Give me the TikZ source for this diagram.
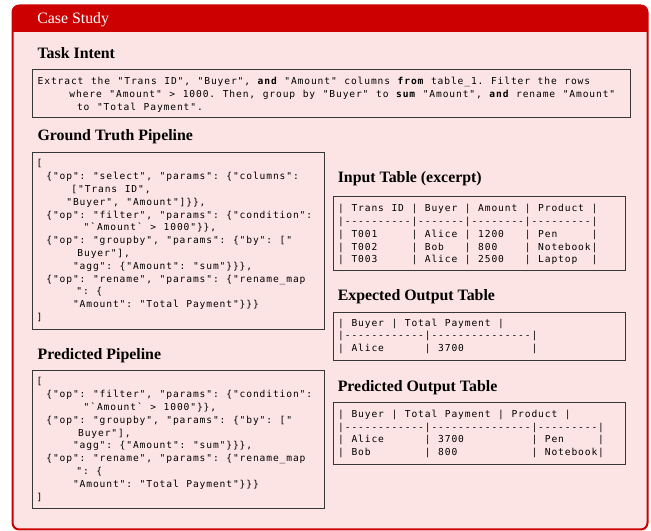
\documentclass[tikz,border=0pt]{standalone}
\usepackage{fontspec}
\setmainfont{Liberation Serif}
\setmonofont{DejaVu Sans Mono}
\usetikzlibrary{positioning}

\definecolor{casered}{RGB}{204,0,0}
\definecolor{casepink}{RGB}{253,228,228}
\definecolor{boxline}{RGB}{55,55,55}

\newcommand{\headfnt}{\fontsize{11.9}{14}\selectfont}
\newcommand{\codefnt}{\ttfamily\fontsize{7.2}{9.6}\selectfont}
% one fixed 5pt cell per character, spaces written as ~
\makeatletter
\newcommand{\codeln}[1]{\@tfor\code@c:=#1\do{\makebox[5pt]{\code@c}}}
\makeatother
\newcommand{\codebf}[1]{{\bfseries\codeln{#1}}}

\begin{document}
\begin{tikzpicture}[x=0.75pt, y=-0.75pt,
    headtext/.style={font=\headfnt\bfseries, anchor=base west, inner sep=0pt},
    codetext/.style={font=\codefnt, align=left, anchor=north west, inner sep=0pt,
        execute at begin node=\rule{0pt}{6.5pt}},
    codebox/.style={draw=boxline, line width=0.6pt}]
    \useasboundingbox (0,0) rectangle (651,531);
    % frame %
    \fill[casepink, rounded corners=5pt] (12.5,5.5) rectangle (647.5,529.5);
    \fill[casered, rounded corners=5pt] (12.5,5.5) rectangle (647.5,32);
    \fill[casered] (12.5,20) rectangle (647.5,32);
    \draw[casered, line width=1.5pt, rounded corners=5pt] (12.5,5.5) rectangle (647.5,529.5);
    \node[font=\headfnt, text=white, anchor=base west, inner sep=0pt] (title) at (37,23.5) {Case Study};
    % task intent %
    \node[headtext] (taskhead) at (37.3,59) {Task Intent};
    \draw[codebox] (32.5,69.3) rectangle (630,117.5);
    \node[codetext] (tasktext) at (37,76.8) {\codeln{Extract~the~"Trans~ID",~"Buyer",~}\codebf{and}\codeln{~"Amount"~columns~}\codebf{from}\codeln{~table\_1.~Filter~the~rows}\\
        \hspace*{23.8pt}\codeln{where~"Amount"~>~1000.~Then,~group~by~"Buyer"~to~}\codebf{sum}\codeln{~"Amount",~}\codebf{and}\codeln{~rename~"Amount"}\\
        \hspace*{29.5pt}\codeln{to~"Total~Payment".}};
    % ground truth pipeline %
    \node[headtext] (gthead) at (37.3,141) {Ground Truth Pipeline};
    \draw[codebox] (32,152.5) rectangle (324,329);
    \node[codetext] (gttext) at (39,159.3) {\hspace*{-2.3pt}\codeln{[}\\
        \hspace*{5pt}\codeln{\{"op":~"select",~"params":~\{"columns":}\\
        \hspace*{23.8pt}\codeln{["Trans~ID",}\\
        \hspace*{20pt}\codeln{"Buyer",~"Amount"]\}\},}\\
        \hspace*{5pt}\codeln{\{"op":~"filter",~"params":~\{"condition":}\\
        \hspace*{33pt}\codeln{"\textasciigrave Amount\textasciigrave~>~1000"\}\},}\\
        \hspace*{5pt}\codeln{\{"op":~"groupby",~"params":~\{"by":~["}\\
        \hspace*{28.3pt}\codeln{Buyer"],}\\
        \hspace*{25pt}\codeln{"agg":~\{"Amount":~"sum"\}\}\},}\\
        \hspace*{5pt}\codeln{\{"op":~"rename",~"params":~\{"rename\_map}\\
        \hspace*{27.5pt}\codeln{":~\{}\\
        \hspace*{25pt}\codeln{"Amount":~"Total~Payment"\}\}\}}\\
        \hspace*{-2.3pt}\codeln{]}};
    % predicted pipeline %
    \node[headtext] (predhead) at (37.3,360) {Predicted Pipeline};
    \draw[codebox] (32,370.7) rectangle (324,508.3);
    \node[codetext] (predtext) at (39,377.3) {\hspace*{-2.3pt}\codeln{[}\\
        \hspace*{5pt}\codeln{\{"op":~"filter",~"params":~\{"condition":}\\
        \hspace*{33pt}\codeln{"\textasciigrave Amount\textasciigrave~>~1000"\}\},}\\
        \hspace*{5pt}\codeln{\{"op":~"groupby",~"params":~\{"by":~["}\\
        \hspace*{28.8pt}\codeln{Buyer"],}\\
        \hspace*{25pt}\codeln{"agg":~\{"Amount":~"sum"\}\}\},}\\
        \hspace*{5pt}\codeln{\{"op":~"rename",~"params":~\{"rename\_map}\\
        \hspace*{27.5pt}\codeln{":~\{}\\
        \hspace*{25pt}\codeln{"Amount":~"Total~Payment"\}\}\}}\\
        \hspace*{-2.3pt}\codeln{]}};
    % input table %
    \node[headtext] (inhead) at (337.5,183) {Input Table (excerpt)};
    \draw[codebox] (333.3,196) rectangle (625,270.7);
    \node[codetext] (intext) at (337.5,204) {\codeln{|~Trans~ID~|~Buyer~|~Amount~|~Product~|}\\
        \codeln{|----------|-------|--------|---------|}\\
        \codeln{|~T001~~~~~|~Alice~|~1200~~~|~Pen~~~~~|}\\
        \codeln{|~T002~~~~~|~Bob~~~|~800~~~~|~Notebook|}\\
        \codeln{|~T003~~~~~|~Alice~|~2500~~~|~Laptop~~|}};
    % expected output table %
    \node[headtext] (exphead) at (337.5,300.5) {Expected Output Table};
    \draw[codebox] (333.3,312.3) rectangle (625,360.5);
    \node[codetext] (exptext) at (337.5,318.5) {\codeln{|~Buyer~|~Total~Payment~|}\\
        \codeln{|------------|---------------|}\\
        \codeln{|~Alice~~~~~~|~3700~~~~~~~~~~|}};
    % predicted output table %
    \node[headtext] (outhead) at (337.5,391.7) {Predicted Output Table};
    \draw[codebox] (333.3,402.3) rectangle (625,464);
    \node[codetext] (outtext) at (337.5,409.6) {\codeln{|~Buyer~|~Total~Payment~|~Product~|}\\
        \codeln{|------------|---------------|---------|}\\
        \codeln{|~Alice~~~~~~|~3700~~~~~~~~~~|~Pen~~~~~|}\\
        \codeln{|~Bob~~~~~~~~|~800~~~~~~~~~~~|~Notebook|}};
\end{tikzpicture}
\end{document}
